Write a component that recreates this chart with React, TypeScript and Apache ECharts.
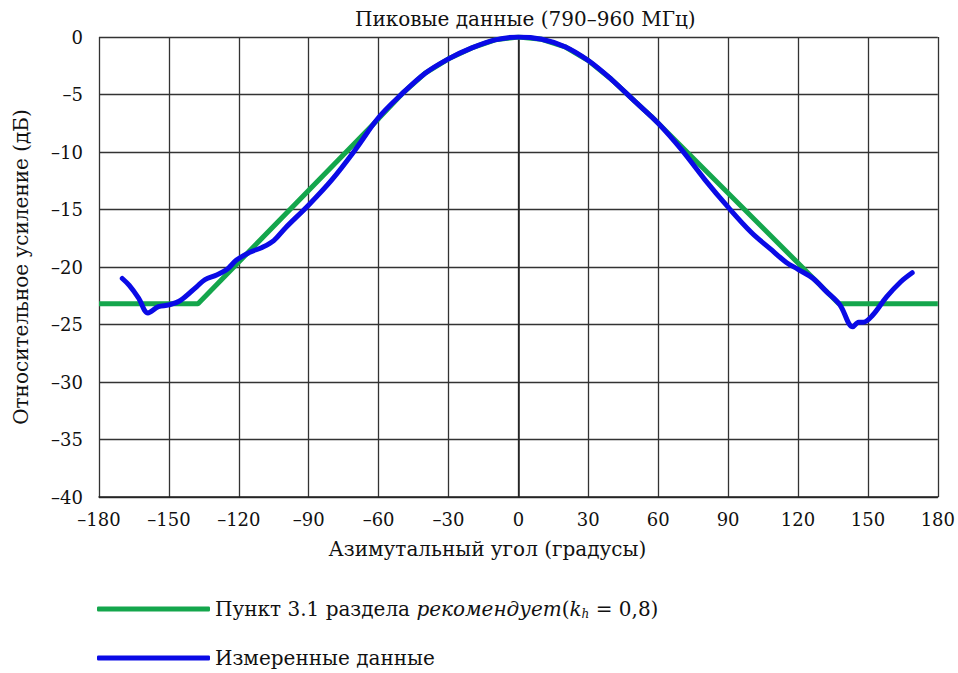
import React, { useEffect, useRef } from "react";
import * as echarts from "echarts";

const xTicksMin = -180;
const xTicksMax = 180;
const yTicksMin = -40;
const yTicksMax = 0;

const greenX = [-180, -137.5, -60, -50, -40, -30, -20, -10, 0, 10, 20, 30, 40, 50, 57, 137.5, 180];
const greenY = [-23.2, -23.2, -7.1, -4.95, -3.15, -1.9, -0.95, -0.25, 0, -0.2, -0.85, -2.05, -3.7, -5.6, -6.9, -23.2, -23.2];

const blueX = [-170, -167, -163, -159, -154.5, -150, -145, -138, -134.5, -129.5, -125, -121, -115, -110, -105, -100, -90, -80, -70, -60, -50, -40, -30, -20, -10, 0, 10, 20, 30, 40, 50, 60, 70, 80, 90, 100, 108, 115, 120, 126.5, 132, 138, 143.5, 146, 148, 152, 158, 164, 169];
const blueY = [-21.0, -21.6, -22.7, -24.0, -23.45, -23.3, -22.9, -21.7, -21.1, -20.7, -20.2, -19.4, -18.7, -18.3, -17.7, -16.6, -14.6, -12.4, -9.8, -7.0, -4.95, -3.15, -1.9, -0.95, -0.25, 0, -0.2, -0.85, -2.05, -3.7, -5.6, -7.5, -9.8, -12.4, -14.8, -17.0, -18.4, -19.6, -20.2, -21.0, -22.1, -23.3, -25.2, -24.8, -24.8, -24.2, -22.6, -21.3, -20.5];

const seriesNames = ["Пункт 3.1 раздела рекомендует (kh = 0,8)", "Измеренные данные"];
const titleText = "Пиковые данные (790–960 МГц)";
const xName = "Азимутальный угол (градусы)";
const yName = "Относительное усиление (дБ)";

const FONT = "DejaVu Serif";

export default function App() {
  const ref = useRef<HTMLDivElement>(null);
  useEffect(() => {
    if (!ref.current) return;
    const chart = echarts.init(ref.current, undefined, { renderer: "svg" });
    const fmt = (v: number) => (v < 0 ? "\u2013" + Math.abs(v) : String(v));
    chart.setOption({
      animation: false,
      backgroundColor: "#ffffff",
      textStyle: { fontFamily: FONT },
      title: {
        text: titleText,
        left: 350,
        top: 4,
        textStyle: { fontFamily: FONT, fontSize: 20, fontWeight: "normal", color: "#111" },
      },
      grid: { left: 99, right: 20, top: 37, bottom: 176, show: false },
      xAxis: {
        type: "value",
        min: xTicksMin,
        max: xTicksMax,
        interval: 30,
        name: xName,
        nameLocation: "middle",
        nameGap: 42,
        nameTextStyle: { fontFamily: FONT, fontSize: 20, color: "#111", padding: [0, 62, 0, 0] },
        axisLine: { show: true, onZero: false, lineStyle: { color: "#222", width: 1.5 } },
        axisTick: { show: false },
        axisLabel: { fontFamily: FONT, fontSize: 18, color: "#111", margin: 13, formatter: fmt },
        splitLine: { show: true, lineStyle: { color: "#333", width: 1.3 } },
      },
      yAxis: {
        type: "value",
        min: yTicksMin,
        max: yTicksMax,
        interval: 5,
        name: yName,
        nameLocation: "middle",
        nameGap: 68,
        nameRotate: 90,
        nameTextStyle: { fontFamily: FONT, fontSize: 20, color: "#111" },
        axisLine: { show: true, lineStyle: { color: "#222", width: 1.5 } },
        axisTick: { show: false },
        axisLabel: { fontFamily: FONT, fontSize: 18, color: "#111", margin: 16, formatter: fmt },
        splitLine: { show: true, lineStyle: { color: "#333", width: 1.3 } },
      },
      legend: {
        orient: "vertical",
        left: 92,
        top: 594,
        itemWidth: 113,
        itemHeight: 5,
        itemGap: 28,
        icon: "roundRect",
        data: seriesNames,
        formatter: (name: string) => {
          if (name === seriesNames[0]) {
            return "{n|Пункт 3.1 раздела }{i|рекомендует}{n|(}{i|k}{s|h}{n| = 0,8)}";
          }
          return "{n|" + name + "}";
        },
        textStyle: {
          fontFamily: FONT,
          fontSize: 20,
          color: "#111",
          rich: {
            n: { fontFamily: FONT, fontSize: 20, color: "#111" },
            i: { fontFamily: FONT, fontSize: 20, fontStyle: "italic", color: "#111" },
            s: { fontFamily: FONT, fontSize: 12, fontStyle: "italic", color: "#111", verticalAlign: "bottom", padding: [10, 0, 0, 0] },
          },
        },
      },
      series: [
        {
          name: seriesNames[0],
          type: "line",
          data: greenX.map((x, i) => [x, greenY[i]]),
          showSymbol: false,
          symbol: "none",
          lineStyle: { color: "#14a64c", width: 5 },
          itemStyle: { color: "#14a64c" },
          z: 2,
        },
        {
          name: seriesNames[1],
          type: "line",
          data: blueX.map((x, i) => [x, blueY[i]]),
          showSymbol: false,
          symbol: "none",
          smooth: 0.35,
          lineStyle: { color: "#0a0ae6", width: 5, cap: "round", join: "round" },
          itemStyle: { color: "#0a0ae6" },
          z: 3,
        },
      ],
    });
    return () => chart.dispose();
  }, []);
  return <div ref={ref} style={{ position: "fixed", left: 0, top: 0, width: 958, height: 673 }} />;
}
